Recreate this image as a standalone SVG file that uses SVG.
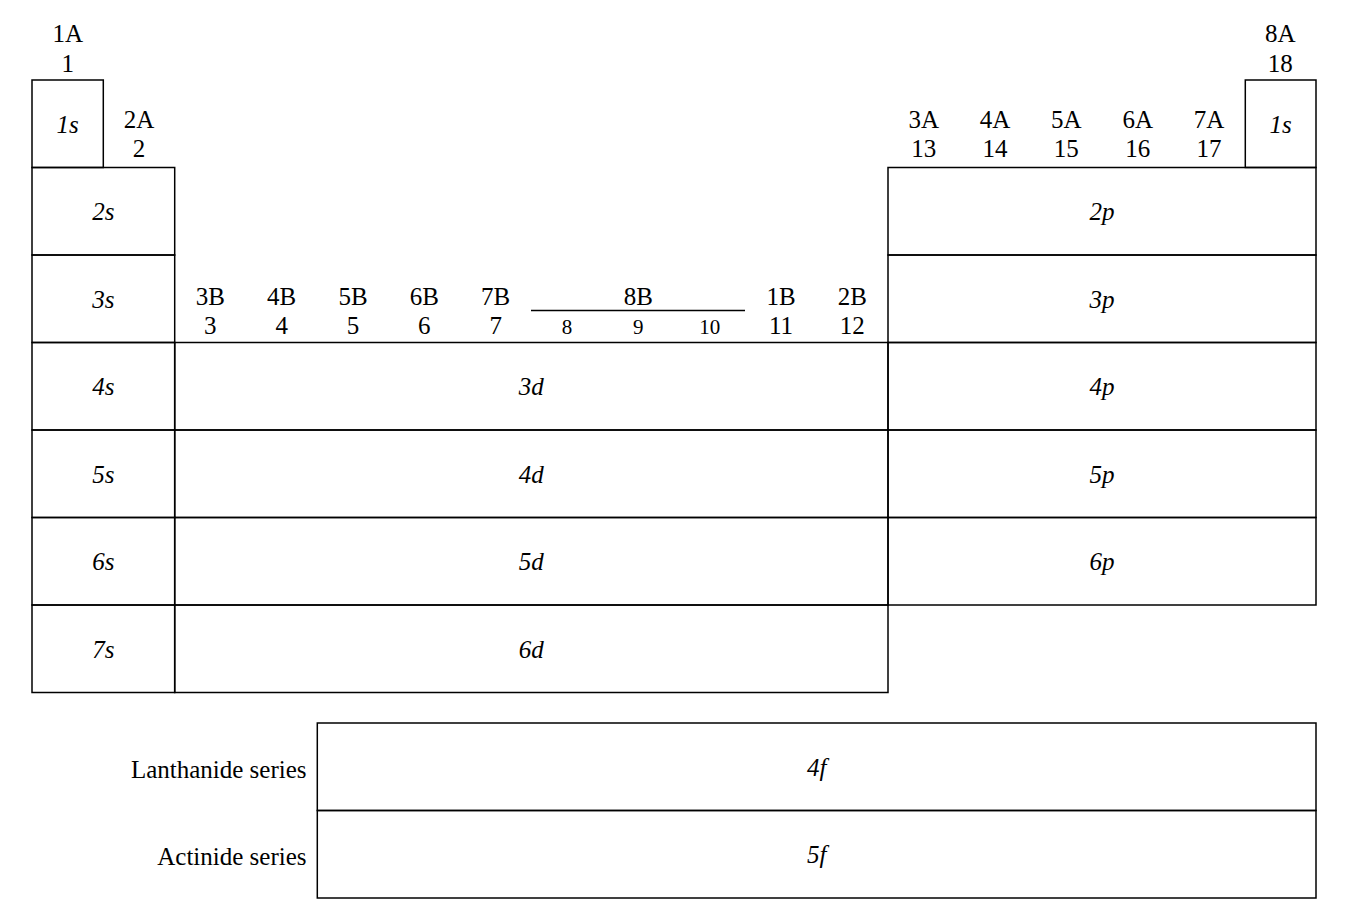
<svg xmlns="http://www.w3.org/2000/svg" width="1362" height="918" viewBox="0 0 1362 918">
<style>
.b{fill:none;stroke:#000;stroke-width:1.5}
.t{font-family:'Liberation Serif','Times New Roman',serif;font-size:25px;fill:#000;text-anchor:middle}
.s{font-size:21px}
.i{font-style:italic}
.r{text-anchor:end}
</style>
<rect width="1362" height="918" fill="#fff"/>
<g id="headers">
<text class="t" x="67.7" y="41.5">1A</text><text class="t" x="67.7" y="71.5">1</text>
<text class="t" x="139" y="128">2A</text><text class="t" x="139" y="157">2</text>
<text class="t" x="1280.3" y="41.5">8A</text><text class="t" x="1280.3" y="71.5">18</text>
<text class="t" x="923.7" y="128">3A</text><text class="t" x="923.7" y="157">13</text>
<text class="t" x="995" y="128">4A</text><text class="t" x="995" y="157">14</text>
<text class="t" x="1066.3" y="128">5A</text><text class="t" x="1066.3" y="157">15</text>
<text class="t" x="1137.7" y="128">6A</text><text class="t" x="1137.7" y="157">16</text>
<text class="t" x="1209" y="128">7A</text><text class="t" x="1209" y="157">17</text>
<text class="t" x="210.3" y="305">3B</text><text class="t" x="210.3" y="334">3</text>
<text class="t" x="281.7" y="305">4B</text><text class="t" x="281.7" y="334">4</text>
<text class="t" x="353" y="305">5B</text><text class="t" x="353" y="334">5</text>
<text class="t" x="424.3" y="305">6B</text><text class="t" x="424.3" y="334">6</text>
<text class="t" x="495.7" y="305">7B</text><text class="t" x="495.7" y="334">7</text>
<text class="t" x="638.3" y="305">8B</text>
<line x1="531" y1="310.5" x2="745" y2="310.5" stroke="#000" stroke-width="1.5"/>
<text class="t s" x="567" y="334">8</text><text class="t s" x="638.3" y="334">9</text><text class="t s" x="709.7" y="334">10</text>
<text class="t" x="781" y="305">1B</text><text class="t" x="781" y="334">11</text>
<text class="t" x="852.3" y="305">2B</text><text class="t" x="852.3" y="334">12</text>
</g>
<g id="s-block">
<g id="s1"><rect class="b" x="32" y="80" width="71.3" height="87.5"/><text class="t i" x="67.7" y="133">1s</text></g>
<g id="s2"><rect class="b" x="32" y="167.5" width="142.7" height="87.5"/><text class="t i" x="103.3" y="220">2s</text></g>
<g id="s3"><rect class="b" x="32" y="255" width="142.7" height="87.5"/><text class="t i" x="103.3" y="308">3s</text></g>
<g id="s4"><rect class="b" x="32" y="342.5" width="142.7" height="87.5"/><text class="t i" x="103.3" y="395">4s</text></g>
<g id="s5"><rect class="b" x="32" y="430" width="142.7" height="87.5"/><text class="t i" x="103.3" y="483">5s</text></g>
<g id="s6"><rect class="b" x="32" y="517.5" width="142.7" height="87.5"/><text class="t i" x="103.3" y="570">6s</text></g>
<g id="s7"><rect class="b" x="32" y="605" width="142.7" height="87.5"/><text class="t i" x="103.3" y="658">7s</text></g>
<g id="he1s"><rect class="b" x="1245.3" y="80" width="70.7" height="87.5"/><text class="t i" x="1280.7" y="133">1s</text></g>
</g>
<g id="d-block">
<g id="d3"><rect class="b" x="174.7" y="342.5" width="713.3" height="87.5"/><text class="t i" x="531.3" y="395">3d</text></g>
<g id="d4"><rect class="b" x="174.7" y="430" width="713.3" height="87.5"/><text class="t i" x="531.3" y="483">4d</text></g>
<g id="d5"><rect class="b" x="174.7" y="517.5" width="713.3" height="87.5"/><text class="t i" x="531.3" y="570">5d</text></g>
<g id="d6"><rect class="b" x="174.7" y="605" width="713.3" height="87.5"/><text class="t i" x="531.3" y="658">6d</text></g>
</g>
<g id="p-block">
<g id="p2"><rect class="b" x="888" y="167.5" width="428" height="87.5"/><text class="t i" x="1102" y="220">2p</text></g>
<g id="p3"><rect class="b" x="888" y="255" width="428" height="87.5"/><text class="t i" x="1102" y="308">3p</text></g>
<g id="p4"><rect class="b" x="888" y="342.5" width="428" height="87.5"/><text class="t i" x="1102" y="395">4p</text></g>
<g id="p5"><rect class="b" x="888" y="430" width="428" height="87.5"/><text class="t i" x="1102" y="483">5p</text></g>
<g id="p6"><rect class="b" x="888" y="517.5" width="428" height="87.5"/><text class="t i" x="1102" y="570">6p</text></g>
</g>
<g id="f-block">
<g id="f4"><rect class="b" x="317.3" y="723" width="998.7" height="87.5"/><text class="t i" x="816.7" y="776">4f</text><text class="t r" x="306.5" y="778">Lanthanide series</text></g>
<g id="f5"><rect class="b" x="317.3" y="810.5" width="998.7" height="87.5"/><text class="t i" x="816.7" y="863">5f</text><text class="t r" x="306.5" y="865">Actinide series</text></g>
</g>
<g id="connectors"></g>
</svg>
